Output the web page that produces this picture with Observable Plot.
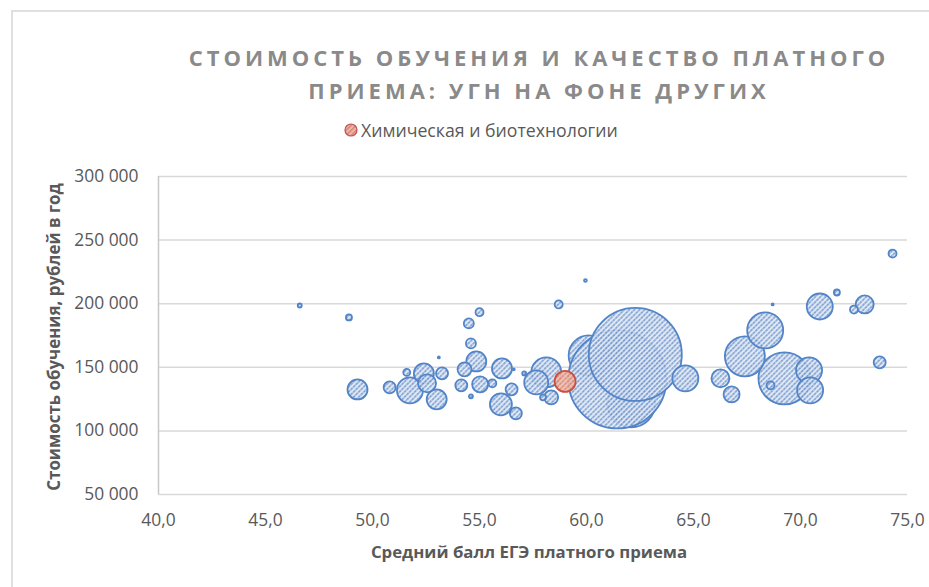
<!DOCTYPE html>
<html>
<head>
<meta charset="utf-8">
<script src="https://cdn.jsdelivr.net/npm/d3@7"></script>
<script src="https://cdn.jsdelivr.net/npm/@observablehq/plot@0.6"></script>
<style>
  html, body { margin: 0; padding: 0; background: #fff; }
  #wrap { position: relative; width: 929px; height: 587px; overflow: hidden; font-family: "Open Sans", sans-serif; }
  #frame { position: absolute; left: 11px; top: 10px; width: 940px; height: 600px; border: 2px solid #e0e0e0; box-sizing: border-box; }
  .title { position: absolute; left: -1px; width: 1080px; text-align: center; font-weight: bold; color: #8a8a8a; font-size: 22px; letter-spacing: 4px; white-space: nowrap; }
  #legend { position: absolute; left: 343px; top: 118px; font-size: 17.7px; color: #595959; display: flex; align-items: center; white-space: nowrap; }
  #ytitle { position: absolute; left: 53px; top: 337px; transform: translate(-50%, -50%) rotate(-90deg); font-weight: bold; font-size: 16.9px; color: #595959; white-space: nowrap; }
  #xtitle { position: absolute; left: 529px; top: 551px; transform: translate(-50%, -50%); font-weight: bold; font-size: 16.8px; color: #595959; white-space: nowrap; }
  #chart { position: absolute; left: 0; top: 0; }
</style>
</head>
<body>
<div id="wrap">
  <div id="frame"></div>
  <div id="chart"></div>
  <div class="title" style="top:42px;">СТОИМОСТЬ ОБУЧЕНИЯ И КАЧЕСТВО ПЛАТНОГО</div>
  <div class="title" style="top:75px;">ПРИЕМА: УГН НА ФОНЕ ДРУГИХ</div>
  <div id="legend"><svg width="16" height="16" style="margin-right:2px"><circle cx="8" cy="8" r="6" fill="url(#hatchRedL)" stroke="#c0504d" stroke-width="1.2"/><defs><pattern id="hatchRedL" patternUnits="userSpaceOnUse" width="3.6" height="3.6" patternTransform="rotate(45)"><rect width="3.6" height="3.6" fill="#edb9ad"/><line x1="0.9" y1="0" x2="0.9" y2="3.6" stroke="#d0715f" stroke-width="1.1"/></pattern></defs></svg><span>Химическая и биотехнологии</span></div>
  <div id="ytitle">Стоимость обучения, рублей в год</div>
  <div id="xtitle">Средний балл ЕГЭ платного приема</div>
</div>
<script>
// Average paid-admission USE score (x), tuition per year (y), bubble size (paid students)
const blueScore = [46.6, 48.9, 49.3, 50.8, 51.6, 51.75, 52.4, 52.55, 53.0, 53.25, 53.1, 55.0, 54.5, 54.6, 54.85, 54.3, 54.15, 55.03, 55.6, 54.6, 56.05, 56.5, 56.0, 56.7, 56.6, 57.09, 58.12, 57.65, 58.35, 57.97, 58.7, 59.95, 60.1, 62.28, 61.44, 62.09, 64.62, 66.26, 66.78, 67.4, 68.35, 68.7, 69.25, 68.6, 70.4, 70.45, 70.9, 71.7, 72.5, 73.0, 73.7, 74.3];
const blueCost = [198600, 189200, 132600, 134200, 146000, 131900, 145200, 137400, 124800, 145200, 157800, 193300, 184500, 168800, 154600, 148400, 135800, 136600, 137400, 127200, 149100, 132650, 120900, 113800, 148400, 145200, 146000, 138100, 126400, 126400, 199400, 218200, 159300, 160100, 140500, 121700, 141300, 141300, 128700, 158600, 179000, 199400, 141300, 135800, 147600, 131900, 197800, 208800, 195400, 199400, 153800, 239400];
const blueSize = [4, 9, 100, 36, 12, 169, 100, 81, 100, 36, 1, 16, 25, 25, 100, 49, 36, 64, 16, 4, 100, 36, 121, 36, 1, 4, 225, 144, 49, 9, 16, 2, 400, 2162, 2401, 576, 169, 81, 64, 400, 324, 1, 676, 16, 169, 169, 169, 9, 16, 81, 36, 16];
// drawing layer (series order in the source: these sit behind the two largest bubbles)
const blueBehind = [32, 35];

const redName = "Химическая и биотехнологии";
const redScore = [59.0];
const redCost = [138900];
const redSize = [110];

const xTicks = [40, 45, 50, 55, 60, 65, 70, 75];
const yTicks = [50000, 100000, 150000, 200000, 250000, 300000];

const blue = blueScore.map((x, i) => ({x, y: blueCost[i], s: blueSize[i], back: blueBehind.includes(i)}));
const red = redScore.map((x, i) => ({x, y: redCost[i], s: redSize[i], name: redName}));
const layerKey = d => d.back ? 1e6 : d.s;

const fmtY = d => d3.format(",")(d).replace(/,/g, "\u00a0");
const fmtX = d => d.toFixed(1).replace(".", ",");

const chart = Plot.plot({
  width: 929,
  height: 587,
  marginLeft: 158,
  marginRight: 22,
  marginTop: 176,
  marginBottom: 93,
  style: {fontFamily: "'Open Sans', sans-serif", fontSize: "17.4px", color: "#595959", background: "transparent"},
  x: {domain: [40, 75], ticks: xTicks, tickFormat: fmtX},
  y: {domain: [50000, 300000], ticks: yTicks, tickFormat: fmtY},
  r: {type: "sqrt", domain: [0, 2401], range: [0, 49]},
  marks: [
    Plot.gridY(yTicks, {stroke: "#d9d9d9", strokeOpacity: 1, strokeWidth: 1.5}),
    Plot.ruleX([40], {stroke: "#c8c8c8", strokeWidth: 1.5}),
    Plot.axisY(yTicks, {tickSize: 0, tickPadding: 20, label: null, tickFormat: fmtY, fill: "#595959"}),
    Plot.axisX(xTicks, {tickSize: 0, tickPadding: 19, label: null, tickFormat: fmtX, fill: "#595959"}),
    Plot.dot(blue, {x: "x", y: "y", r: "s", sort: (a, b) => layerKey(b) - layerKey(a), fill: "url(#hatchBlue)", fillOpacity: 0.88, stroke: "#5284c8", strokeWidth: 1.8}),
    Plot.dot(red, {x: "x", y: "y", r: "s", fill: "url(#hatchRed)", fillOpacity: 0.92, stroke: "#c9503f", strokeWidth: 1.8})
  ]
});

const defs = d3.select(chart).insert("defs", ":first-child");
function hatch(id, bg, fg) {
  const p = defs.append("pattern").attr("id", id).attr("patternUnits", "userSpaceOnUse")
    .attr("width", 3.6).attr("height", 3.6).attr("patternTransform", "rotate(45)");
  p.append("rect").attr("width", 3.6).attr("height", 3.6).attr("fill", bg);
  p.append("line").attr("x1", 0.9).attr("y1", 0).attr("x2", 0.9).attr("y2", 3.6)
    .attr("stroke", fg).attr("stroke-width", 1.2).attr("stroke-dasharray", "2.4,0.8");
}
hatch("hatchBlue", "#dbe5f3", "#4a78bf");
hatch("hatchRed", "#efbcae", "#d0715f");

document.getElementById("chart").appendChild(chart);
</script>
</body>
</html>
